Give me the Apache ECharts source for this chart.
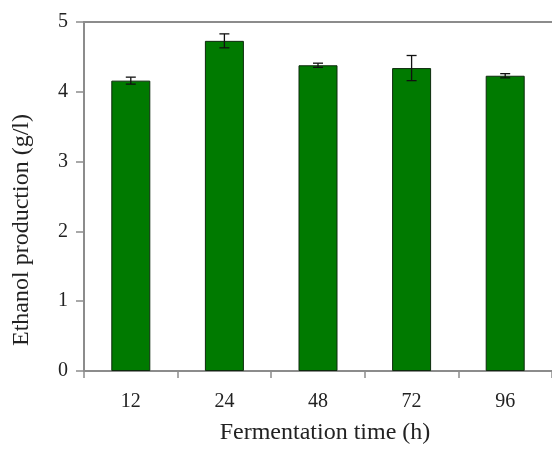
<!DOCTYPE html>
<html>
<head>
<meta charset="utf-8">
<script src="https://cdn.jsdelivr.net/npm/echarts@6/dist/echarts.min.js"></script>
<style>
  html, body { margin: 0; padding: 0; background: #ffffff; }
  #chart { width: 552px; height: 451px; }
</style>
</head>
<body>
<div id="chart"></div>
<script>
// Ethanol production over fermentation time, mean ± SD
var categories = ['12', '24', '48', '72', '96'];
var ethanol = [4.16, 4.73, 4.38, 4.34, 4.23];
var errors = [0.05, 0.10, 0.03, 0.18, 0.03];
var yTicks = [0, 1, 2, 3, 4, 5];
var xTitle = 'Fermentation time (h)';
var yTitle = 'Ethanol production (g/l)';

var FONT = '"Liberation Serif", "DejaVu Serif", serif';
var AXIS_GREY = '#8c8c8c';
var TEXT = '#222222';

var errorData = ethanol.map(function (v, i) {
  return [i, v - errors[i], v + errors[i]];
});

var chart = echarts.init(document.getElementById('chart'));
chart.setOption({
  animation: false,
  backgroundColor: '#ffffff',
  grid: { left: 84, right: -2, top: 22, bottom: 80 },
  graphic: [{
    type: 'text',
    x: 325,
    y: 433,
    style: {
      text: xTitle, font: '24px ' + FONT, fill: TEXT,
      align: 'center', verticalAlign: 'middle'
    }
  }, {
    type: 'text',
    x: 22,
    y: 230,
    rotation: Math.PI / 2,
    style: {
      text: yTitle, font: '24px ' + FONT, fill: TEXT,
      align: 'center', verticalAlign: 'middle'
    }
  }],
  xAxis: [{
    type: 'category',
    data: categories,
    position: 'bottom',
    axisLine: { lineStyle: { color: AXIS_GREY, width: 2 } },
    axisTick: { show: true, inside: false, length: 7, lineStyle: { color: AXIS_GREY, width: 1.5 } },
    axisLabel: { fontFamily: FONT, fontSize: 20, color: TEXT, margin: 21 }
  }, {
    type: 'category',
    data: categories,
    position: 'top',
    axisLine: { show: true, lineStyle: { color: AXIS_GREY, width: 2 } },
    axisTick: { show: false },
    axisLabel: { show: false }
  }],
  yAxis: {
    type: 'value',
    min: 0,
    max: 5,
    interval: 1,
    axisLine: { show: true, lineStyle: { color: AXIS_GREY, width: 2 } },
    axisTick: { show: true, inside: false, length: 8, lineStyle: { color: AXIS_GREY, width: 1.5 } },
    splitLine: { show: false },
    axisLabel: {
      fontFamily: FONT, fontSize: 20, color: TEXT, margin: 16,
      formatter: function (v) { return yTicks.indexOf(v) >= 0 ? String(v) : ''; }
    }
  },
  series: [{
    type: 'bar',
    data: ethanol,
    barWidth: 39,
    itemStyle: { color: '#007a00', borderColor: '#0d2a0d', borderWidth: 1 }
  }, {
    type: 'custom',
    data: errorData,
    z: 10,
    renderItem: function (params, api) {
      var x = api.value(0);
      var lo = api.coord([x, api.value(1)]);
      var hi = api.coord([x, api.value(2)]);
      var half = 5;
      var style = { stroke: '#111', lineWidth: 1.3 };
      return {
        type: 'group',
        children: [
          { type: 'line', shape: { x1: hi[0], y1: hi[1], x2: lo[0], y2: lo[1] }, style: style },
          { type: 'line', shape: { x1: hi[0] - half, y1: hi[1], x2: hi[0] + half, y2: hi[1] }, style: style },
          { type: 'line', shape: { x1: lo[0] - half, y1: lo[1], x2: lo[0] + half, y2: lo[1] }, style: style }
        ]
      };
    }
  }]
});
</script>
</body>
</html>
